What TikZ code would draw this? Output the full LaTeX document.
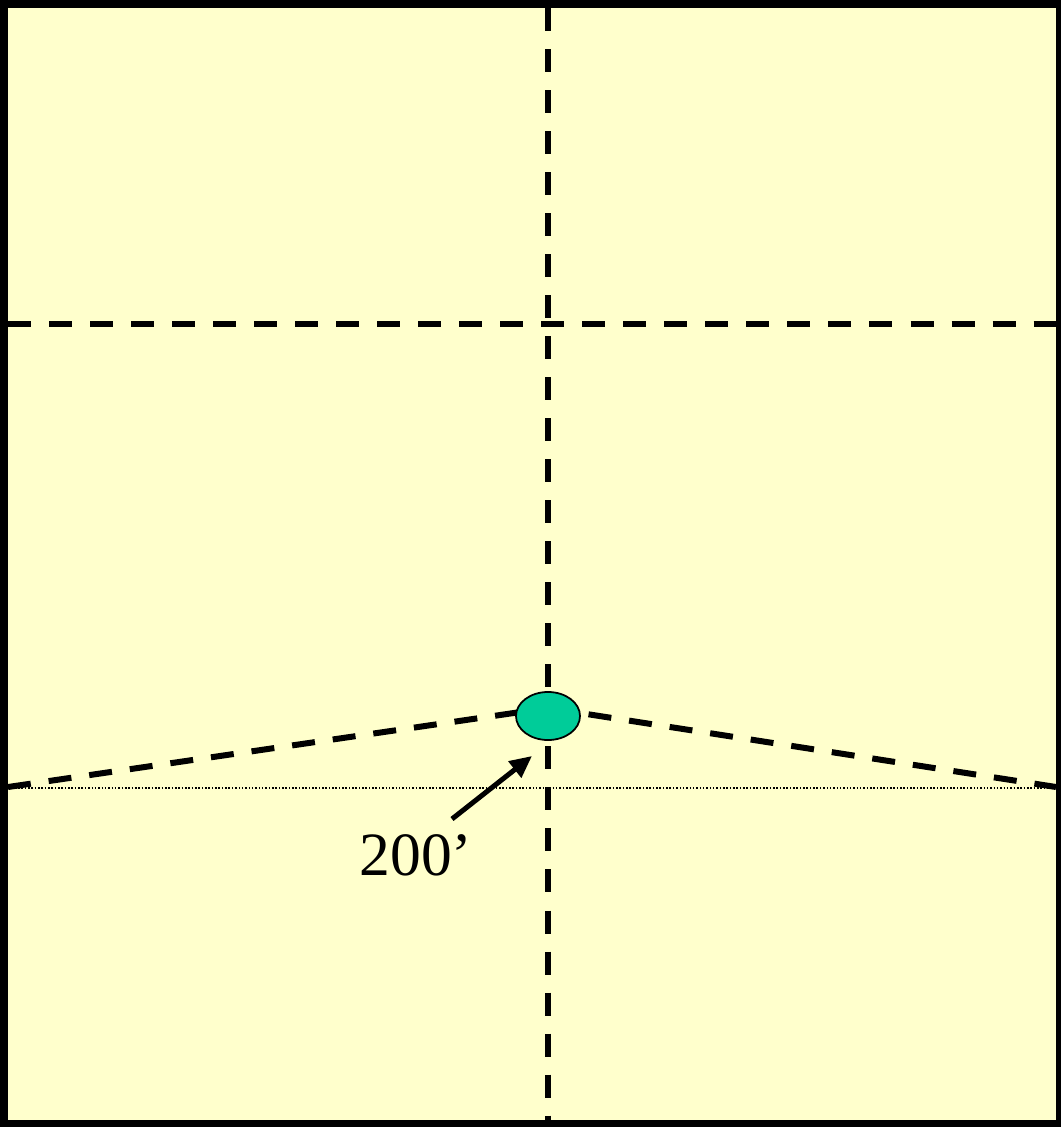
\documentclass[tikz,border=0pt]{standalone}
\usepackage{fontspec}
\setmainfont{Liberation Serif}
\usetikzlibrary{arrows.meta,shapes.geometric}
\definecolor{paper}{HTML}{FFFFCC}
\definecolor{wellgreen}{HTML}{00CC99}
\tikzset{
    gridline/.style={line width=0.06cm, dash pattern=on 0.23cm off 0.18cm},
    basisline/.style={line width=0.4pt, dash pattern=on 0.45pt off 0.5pt},
}
\begin{document}
\begin{tikzpicture}[x=0.01cm, y=-0.01cm]
    % Frame (pixel-like units, y pointing down)
    \fill[black] (0,0) rectangle (1061,1127);
    \fill[paper] (8,8) rectangle (1056,1120);

    % Reference level
    \coordinate (bl) at (8,788);
    \coordinate (br) at (1056,788);
    \draw[basisline] (bl) -- (br);

    % Grid lines
    \coordinate (top) at (548,8);
    \coordinate (bot) at (548,1120);
    \coordinate (left) at (8,324);
    \coordinate (right) at (1056,324);
    \draw[gridline] (top) -- (bot);
    \draw[gridline] (left) -- (right);

    % Sloping lines to the well
    \coordinate (apex) at (548,708);
    \coordinate (sl) at (8,787);
    \coordinate (sr) at (1056,787);
    \draw[gridline] (sl) -- (apex);
    \draw[gridline] (apex) -- (sr);

    % Well
    \node (well) at (548,716) [ellipse, draw, fill=wellgreen, line width=0.5pt,
        minimum width=0.64cm, minimum height=0.48cm, inner sep=0pt] {};

    % Depth label
    \node (depth) at (416,855) {\fontsize{17.5}{21}\selectfont 200’};
    \coordinate (tail) at (452,819);
    \coordinate (tip) at (532,756);
    \draw[line width=0.05cm, -{Triangle[length=0.22cm,width=0.2cm]}] (tail) -- (tip);
\end{tikzpicture}
\end{document}
